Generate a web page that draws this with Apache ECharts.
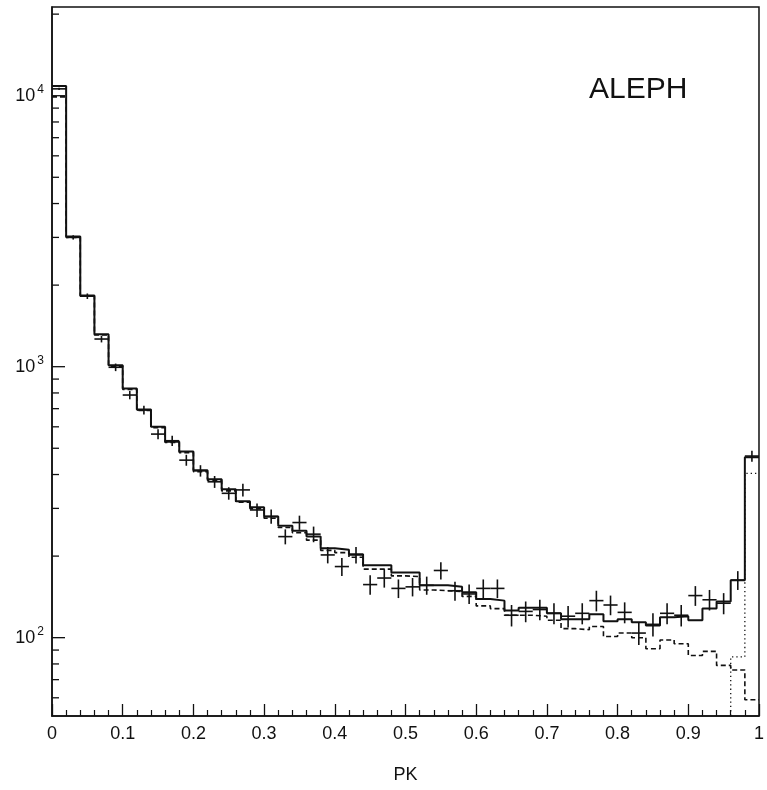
<!DOCTYPE html>
<html>
<head>
<meta charset="utf-8">
<script src="https://cdn.jsdelivr.net/npm/echarts@6/dist/echarts.min.js"></script>
<style>
html,body{margin:0;padding:0;background:#fff;}
#chart{width:767px;height:790px;}
</style>
</head>
<body>
<div id="chart"></div>
<script>
// Bin edges of PK (50 bins of width 0.02)
const binEdges = [0,0.02,0.04,0.06,0.08,0.10,0.12,0.14,0.16,0.18,0.20,0.22,0.24,0.26,0.28,0.30,0.32,0.34,0.36,0.38,0.40,0.42,0.44,0.46,0.48,0.50,0.52,0.54,0.56,0.58,0.60,0.62,0.64,0.66,0.68,0.70,0.72,0.74,0.76,0.78,0.80,0.82,0.84,0.86,0.88,0.90,0.92,0.94,0.96,0.98,1.00];

// Data (crosses)
const dataValues = [10600,3000,1820,1265,995,786,692,564,533,452,413,376,341,351,296,280,236,266,241,202,183,202,157,166,152,154,156,177,149,145,152,152,121,125,127,123,120,123,137,132,124,104,112,123,121,143,138,134,163,468];
const dataErrors = [103,55,43,36,32,28,26,24,23,21,20,19,18,19,17,17,15,16,16,14,14,14,13,13,12,12,12,13,12,12,12,12,11,11,11,11,11,11,12,11,11,10,11,11,11,12,12,12,13,22];

// Solid histogram (total MC)
const solidValues = [10850,3020,1830,1317,1012,830,695,600,529,486,415,384,353,319,303,280,259,248,236,214,211,203,185,185,174,174,156,156,154,147,139,137,126,129,129,123,117,117,122,115,117,114,111,119,120,116,128,136,163,463];

// Dashed histogram
const dashedValues = [9900,3000,1820,1310,1005,825,690,596,525,482,410,380,348,316,299,276,255,244,229,210,206,198,179,179,169,168,150,149,148,142,131,128,121,121,120,116,108,107,110,101,104,100,91,98,95,86,89,79,76,59];

// Dotted histogram (only visible at the top end)
const dottedValues = [null,null,null,null,null,null,null,null,null,null,null,null,null,null,null,null,null,null,null,null,null,null,null,null,null,null,null,null,null,null,null,null,null,null,null,null,null,null,null,null,null,null,null,null,null,null,null,45,85,404];

// Axis ticks
const xTicks = [0,0.1,0.2,0.3,0.4,0.5,0.6,0.7,0.8,0.9,1];
const yMajorTicks = [100,1000,10000];
const yMinorTicks = [60,70,80,90,200,300,400,500,600,700,800,900,2000,3000,4000,5000,6000,7000,8000,9000,20000];

function stepData(values) {
  const out = [];
  for (let i = 0; i < values.length; i++) {
    out.push([binEdges[i], values[i]]);
  }
  out.push([binEdges[values.length], values[values.length - 1]]);
  return out;
}

const crossData = dataValues.map((v, i) => [binEdges[i], binEdges[i + 1], v, dataErrors[i]]);
const tickData = yMajorTicks.map(v => [v, 1]).concat(yMinorTicks.map(v => [v, 0]));

const FONT = '"Liberation Sans", Arial, sans-serif';
const INK = '#111';

const chart = echarts.init(document.getElementById('chart'), null, {renderer: 'canvas'});
chart.setOption({
  backgroundColor: '#fff',
  animation: false,
  title: {
    text: 'ALEPH',
    left: 584,
    top: 70,
    textStyle: {fontFamily: FONT, fontSize: 30, fontWeight: 'normal', color: INK}
  },
  grid: {
    left: 52, right: 3, top: 7, bottom: 74,
    show: true, borderColor: INK, borderWidth: 1.5, backgroundColor: 'transparent'
  },
  xAxis: {
    type: 'value',
    min: 0, max: 1, interval: 0.1,
    name: 'PK',
    nameLocation: 'middle',
    nameGap: 50,
    nameTextStyle: {fontFamily: FONT, fontSize: 18, color: INK},
    axisLine: {lineStyle: {color: INK, width: 1.5}},
    axisTick: {inside: true, length: 12, lineStyle: {color: INK, width: 1.3}},
    minorTick: {show: true, splitNumber: 5, length: 6, lineStyle: {color: INK, width: 1.2}},
    axisLabel: {
      fontFamily: FONT, fontSize: 18, color: INK, margin: 9,
      formatter: v => String(Math.round(v * 10) / 10)
    },
    splitLine: {show: false}
  },
  yAxis: {
    type: 'log',
    logBase: 10,
    min: 51.4, max: 21250,
    axisLine: {show: true, lineStyle: {color: INK, width: 1.5}},
    axisTick: {show: false},
    splitLine: {show: false},
    axisLabel: {
      margin: 8,
      formatter: function (v) {
        const e = Math.log10(v);
        if (Math.abs(e - Math.round(e)) > 1e-6) return '';
        return '{b|10}{s|' + Math.round(e) + '}';
      },
      rich: {
        b: {fontFamily: FONT, fontSize: 18, color: INK},
        s: {fontFamily: FONT, fontSize: 12, color: INK, padding: [0, 0, 12, 2]}
      }
    }
  },
  series: [
    {
      name: 'dotted', type: 'line', step: 'end', symbol: 'none',
      data: stepData(dottedValues),
      lineStyle: {color: INK, width: 1.3, type: [1.3, 3]},
      z: 3
    },
    {
      name: 'dashed', type: 'line', step: 'end', symbol: 'none',
      data: stepData(dashedValues),
      lineStyle: {color: INK, width: 1.6, type: [5, 3]},
      z: 4
    },
    {
      name: 'solid', type: 'line', step: 'end', symbol: 'none',
      data: stepData(solidValues),
      lineStyle: {color: INK, width: 2},
      z: 5
    },
    {
      name: 'data', type: 'custom',
      data: crossData,
      encode: {x: [0, 1], y: 2},
      clip: true,
      renderItem: function (params, api) {
        const lo = api.value(0), hi = api.value(1), v = api.value(2), e = api.value(3);
        const a = api.coord([lo, v]);
        const b = api.coord([hi, v]);
        const t = api.coord([(lo + hi) / 2, v + e]);
        const d = api.coord([(lo + hi) / 2, v - e]);
        const style = {stroke: INK, lineWidth: 1.6};
        return {
          type: 'group',
          children: [
            {type: 'line', shape: {x1: a[0], y1: a[1], x2: b[0], y2: b[1]}, style: style},
            {type: 'line', shape: {x1: t[0], y1: t[1], x2: d[0], y2: d[1]}, style: style}
          ]
        };
      },
      z: 6
    },
    {
      name: 'yticks', type: 'custom',
      data: tickData,
      encode: {y: 0},
      renderItem: function (params, api) {
        const v = api.value(0), major = api.value(1);
        const p = api.coord([0, v]);
        const len = major ? 13 : 7;
        return {
          type: 'line',
          shape: {x1: p[0], y1: p[1], x2: p[0] + len, y2: p[1]},
          style: {stroke: INK, lineWidth: 1.3}
        };
      },
      silent: true,
      z: 2
    }
  ]
});
</script>
</body>
</html>
